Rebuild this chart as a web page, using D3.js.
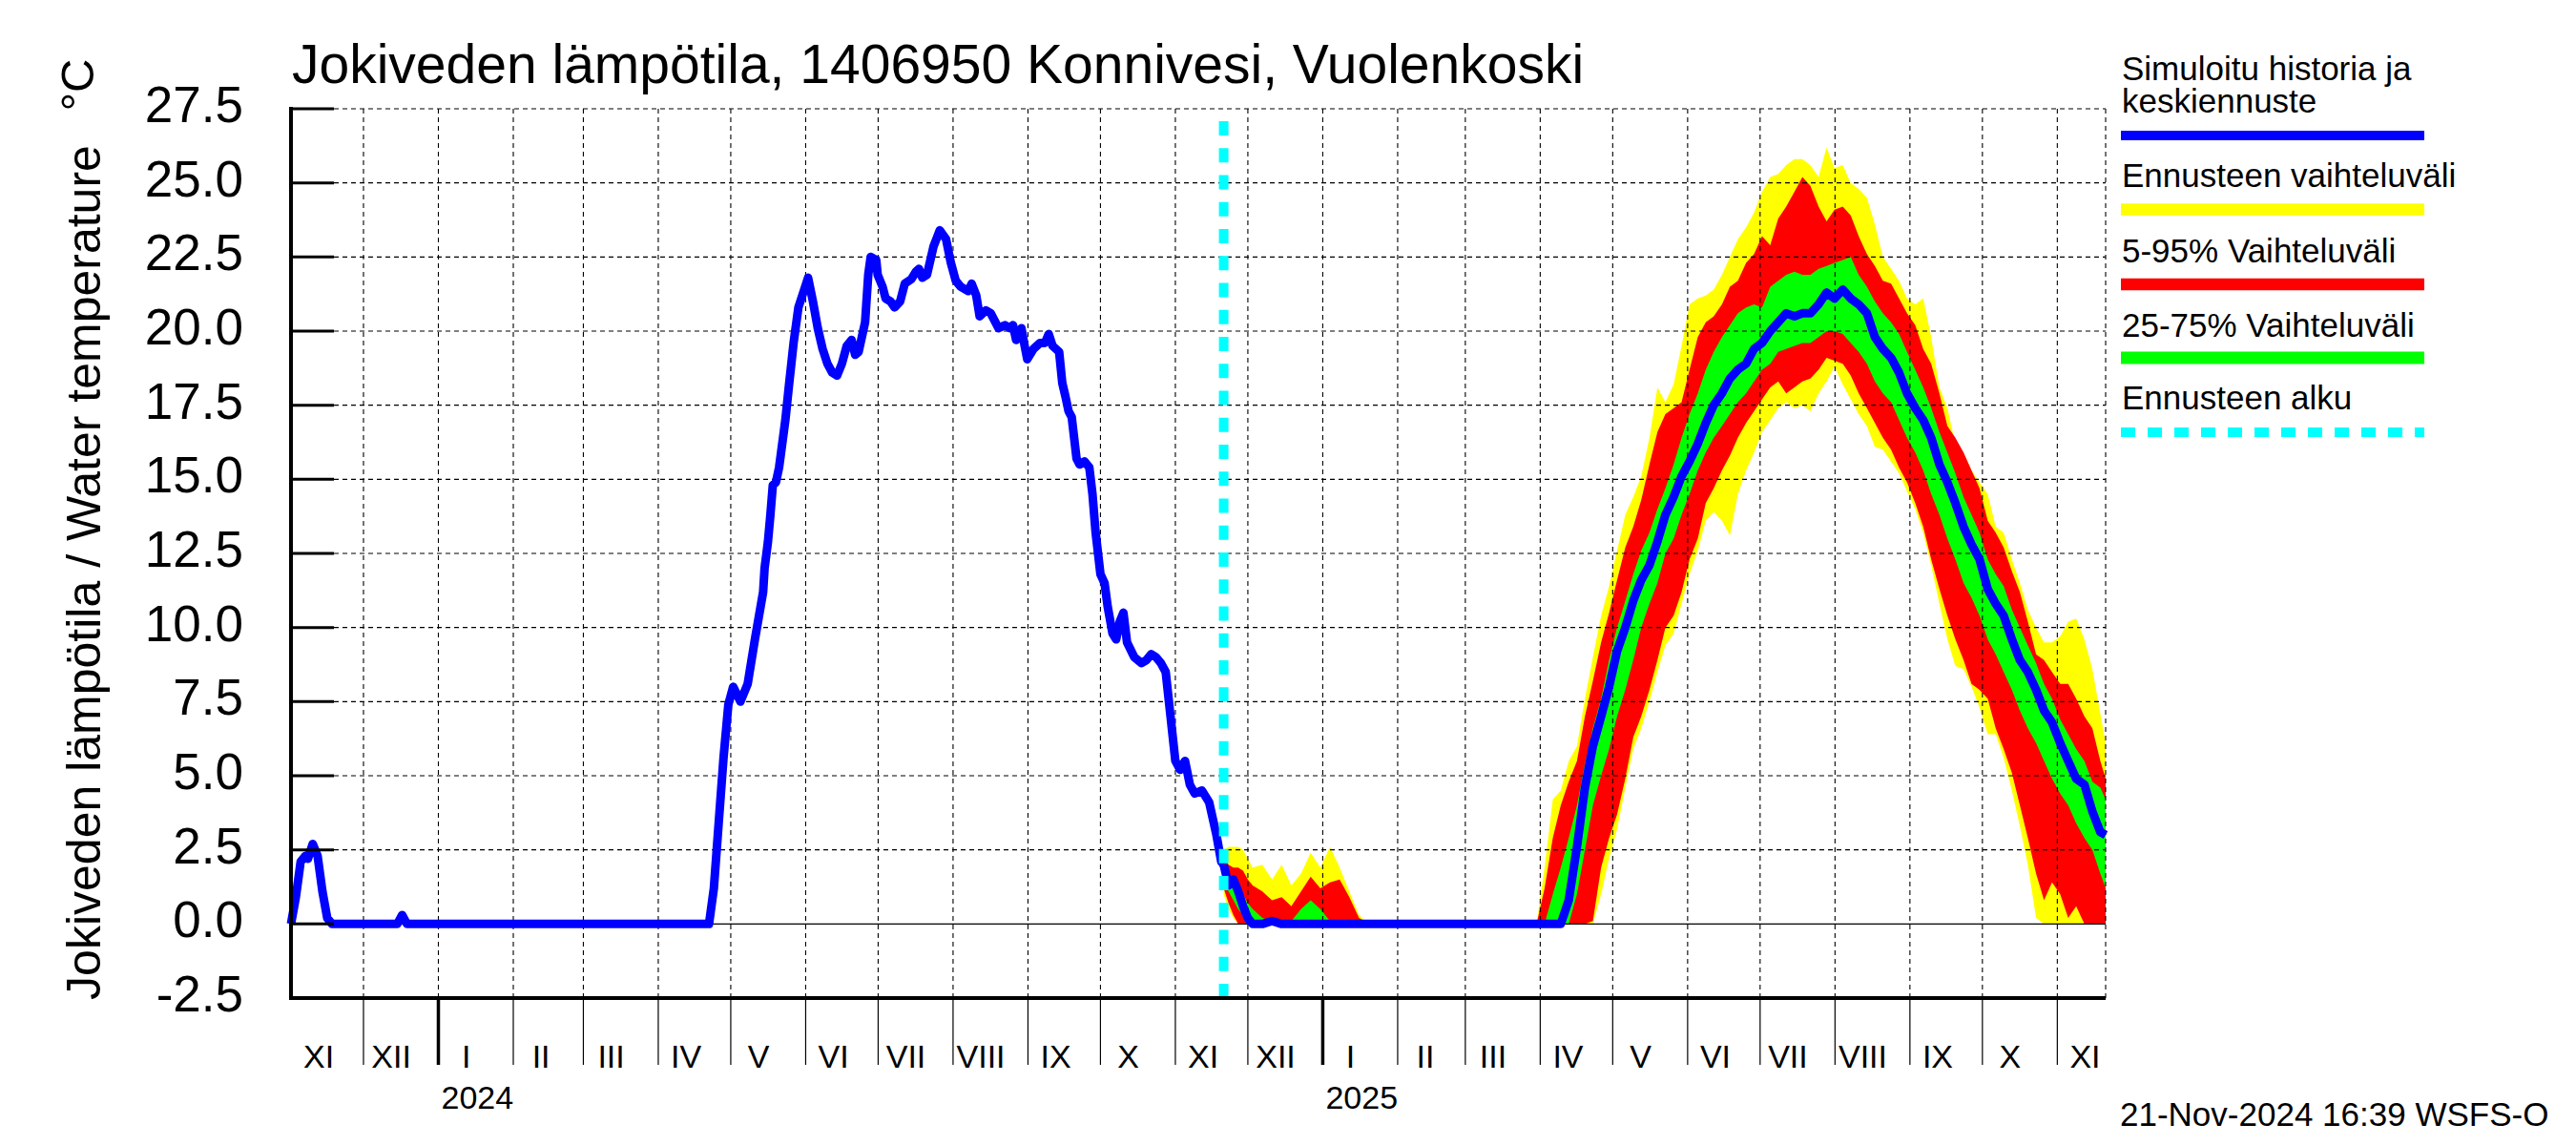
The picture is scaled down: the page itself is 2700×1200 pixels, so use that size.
<!DOCTYPE html>
<html><head><meta charset="utf-8">
<script src="https://cdn.jsdelivr.net/npm/d3@7"></script>
<style>
body{margin:0;background:#fff;}
svg text{font-family:"Liberation Sans",Arial,Helvetica,sans-serif;fill:#000;}
</style>
</head><body>
<svg id="c" width="2700" height="1200"></svg>
<script>
// ---------------- DATA ----------------
const titleText = "Jokiveden lämpötila, 1406950 Konnivesi, Vuolenkoski";
const yAxisTitle = "Jokiveden lämpötila / Water temperature";
const yUnit = "°C";
const footerText = "21-Nov-2024 16:39 WSFS-O";
const axisStart = "2023-11-01";
const axisEnd = "2025-11-21";
const forecastStart = "2024-11-21";
const yTicks = [-2.5,0,2.5,5,7.5,10,12.5,15,17.5,20,22.5,25,27.5];
const yTickLabels = ["-2.5","0.0","2.5","5.0","7.5","10.0","12.5","15.0","17.5","20.0","22.5","25.0","27.5"];
const monthLabels = ["I","II","III","IV","V","VI","VII","VIII","IX","X","XI","XII"];
const legendLabels = [["Simuloitu historia ja","keskiennuste"],["Ennusteen vaihteluväli"],["5-95% Vaihteluväli"],["25-75% Vaihteluväli"],["Ennusteen alku"]];

// simulated history: [days since 2023-11-01, °C]
const history = [[0,0],[2,0.9],[4,2.1],[6,2.3],[7,2.2],[9,2.7],[11,2.3],[13,1.1],[15,0.2],[17,0],[44,0],[46,0.3],[48,0],
[173,0],[175,1.2],[177,3.4],[179,5.6],[181,7.4],[183,8.0],[186,7.5],[189,8.1],[192,9.6],[195.4,11.2],[196,12.0],[197.4,12.9],
[198.4,13.8],[199.4,14.8],[200.7,14.9],[202,15.4],[203.3,16.2],[204.6,17.0],[206,18.1],[208,19.6],[210,20.8],[212,21.3],[214,21.8],
[216,21.0],[218,20.1],[220,19.4],[222,18.9],[224,18.6],[226,18.5],[228,18.9],[230,19.5],[232,19.7],[233.5,19.2],[234.9,19.3],
[237.6,20.3],[238.9,21.9],[239.9,22.5],[242.2,22.4],[242.8,21.9],[244.8,21.5],[246.1,21.1],[248.1,21.0],[249.8,20.8],[252.1,21.0],
[254,21.6],[256.7,21.75],[258.6,22.0],[259.9,22.1],[261.3,21.8],[263.2,21.9],[265.9,22.85],[268.5,23.4],[271.1,23.1],[273.1,22.3],
[275.1,21.7],[277.1,21.5],[280.3,21.35],[281.7,21.6],[283.6,21.2],[285,20.5],[287.6,20.7],[289.6,20.6],[292.8,20.1],[295.5,20.2],
[297.5,20.1],[298.8,20.2],[300.1,19.7],[302.3,20.1],[303.4,19.6],[304.7,19.05],[307.3,19.4],[310,19.6],[312,19.6],[313.6,19.9],
[315.2,19.5],[317.9,19.3],[319.2,18.25],[320.5,17.8],[321.8,17.3],[323.1,17.1],[325.1,15.7],[326.4,15.5],[328.4,15.6],[330.4,15.4],
[331.7,14.5],[333,13.2],[335,11.8],[336.7,11.5],[338,10.7],[340,9.8],[341.5,9.6],[343,10.2],[344.5,10.5],[346,9.5],[349,9.0],
[352,8.8],[354,8.9],[356,9.1],[358,9.0],[360,8.8],[362,8.5],[364,7.0],[366,5.5],[368,5.2],[370,5.5],[372,4.7],[374,4.4],
[377,4.5],[380,4.1],[383,3.0],[385,2.1],[386,2.0]];

// forecast: days since 2023-11-01
const fcDay = [386,388,390,392,394,396,398,402,406,410,414,418,422,426,430,434,438,442,446,470,500,
515.5,518.8,522.2,525.5,528.8,532.2,535.5,538.8,542.2,545.5,
548.8,552.2,555.5,558.8,562.2,565.5,568.8,572.2,575.5,578.8,
582.2,585.5,588.8,592.2,595.5,598.8,602.2,605.5,608.8,612.2,
615.5,618.8,622.2,625.5,628.8,632.2,635.5,638.8,642.2,645.5,
648.8,652.2,655.5,658.8,662.2,665.5,668.8,672.2,675.5,678.8,
682.2,685.5,688.8,692.2,695.5,698.8,702.2,705.5,708.8,712.2,
715.5,718.8,722.2,725.5,728.8,732.2,735.5,738.8,742.2,745.5,
748.8,751];
const fcMax = [2.5,2.6,2.6,2.6,2.5,2.2,1.9,2.0,1.5,2.0,1.3,1.7,2.4,1.9,2.6,1.9,1.1,0.3,0,0,0,
0,1.9,4.2,4.5,5.5,6.0,7.6,9.0,10.4,11.4,
12.6,13.8,14.4,15.1,16.4,18.1,17.6,18.2,19.5,20.9,
21.1,21.2,21.4,21.9,22.5,23.1,23.5,24.0,24.7,25.2,
25.3,25.6,25.8,25.8,25.6,25.2,26.2,25.5,25.6,25.0,
24.8,24.5,23.6,22.5,22.1,21.7,21.1,20.9,21.1,19.8,
18.1,17.4,16.2,15.9,15.3,14.9,14.5,13.4,13.2,12.3,
11.5,10.6,10.0,9.5,9.5,9.7,10.2,10.3,9.6,8.6,
7.1,6.1];
const fcP95 = [2.2,2.0,1.9,1.9,1.8,1.5,1.3,1.1,0.8,0.9,0.6,1.1,1.6,1.2,1.4,1.5,0.9,0.2,0,0,0,
0,1.2,2.9,4.0,4.8,5.5,7.0,8.2,9.5,10.5,
11.6,12.7,13.4,14.3,15.5,16.6,17.2,17.4,17.6,18.7,
19.8,20.3,20.5,20.9,21.5,21.7,22.3,22.6,23.2,22.9,
23.8,24.2,24.7,25.2,24.9,24.2,23.7,24.1,24.2,23.9,
23.2,22.6,22.2,21.7,21.6,21.1,20.6,20.2,19.4,18.9,
17.9,16.8,16.4,15.9,15.3,14.7,13.6,13.2,12.7,11.9,
11.2,10.2,9.1,8.9,8.5,8.1,8.1,7.6,7.0,6.6,
5.5,4.9];
const fcP75 = [2.0,1.7,1.4,1.2,1.0,0.7,0.5,0.2,0.1,0,0.1,0.5,0.8,0.5,0.1,0,0,0,0,0,0,
0,0,1.0,1.9,2.9,4.0,5.4,6.6,7.6,8.9,
10.0,10.9,11.8,12.6,13.2,14.0,14.7,15.5,16.4,17.2,
17.9,18.7,19.3,19.8,20.2,20.6,20.8,20.9,20.8,21.5,
21.7,21.9,22.0,21.9,21.9,22.1,22.2,22.3,22.4,22.5,
21.9,21.5,21.0,20.6,20.3,19.9,19.3,18.7,18.1,17.4,
16.6,15.9,15.2,14.4,13.8,13.2,12.3,11.8,11.4,10.6,
10.0,9.4,8.8,8.1,7.6,6.9,6.4,5.9,5.5,4.8,
4.6,4.2];
const fcMedian = [2.0,1.3,1.5,1.1,0.6,0.2,0,0,0.1,0,0,0,0,0,0,0,0,0,0,0,0,
0,0,0,0,0.8,2.6,4.6,6.0,7.0,8.0,
9.2,10.0,10.9,11.6,12.1,12.9,13.8,14.4,15.1,15.6,
16.2,16.9,17.5,17.9,18.4,18.7,18.9,19.4,19.6,20.0,
20.3,20.6,20.5,20.6,20.6,20.9,21.3,21.1,21.4,21.1,
20.9,20.6,19.8,19.4,19.1,18.6,17.9,17.4,17.0,16.4,
15.5,14.9,14.2,13.4,12.8,12.3,11.3,10.8,10.4,9.6,
8.9,8.5,7.9,7.2,6.8,6.1,5.5,4.9,4.7,3.8,
3.1,3.0];
const fcP25 = [1.5,1.1,0.8,0.5,0.3,0,0,0,0,0,0,0,0,0,0,0,0,0,0,0,0,
0,0,0,0,0,1.0,2.5,4.0,5.0,5.9,
7.0,7.9,8.9,10.0,10.8,11.5,12.5,13.0,13.8,14.5,
15.3,15.9,16.4,16.8,17.2,17.6,17.9,18.3,18.7,18.9,
19.3,19.4,19.5,19.6,19.6,19.8,20.0,20.0,19.9,19.6,
19.3,18.9,18.3,17.9,17.6,17.0,16.4,15.9,15.3,14.5,
13.8,13.0,12.3,11.5,11.0,10.4,9.6,9.1,8.5,7.9,
7.2,6.6,6.1,5.5,4.9,4.4,4.0,3.4,2.9,2.5,
1.7,1.2];
const fcP5 = [1.2,0.7,0.3,0,0,0,0,0,0,0,0,0,0,0,0,0,0,0,0,0,0,
0,0,0,0,0,0,0,0.1,1.9,2.9,
3.7,4.9,6.3,7.0,7.9,8.9,10.0,10.4,11.2,12.3,
13.0,14.2,14.7,15.3,15.8,16.4,16.9,17.3,17.7,18.1,
18.3,17.9,18.1,18.3,18.4,18.7,19.1,19.0,18.9,18.5,
17.9,17.4,16.9,16.4,16.0,15.4,14.9,14.2,13.4,12.3,
11.3,10.4,9.6,8.9,8.1,7.9,7.6,6.6,5.9,5.1,
4.0,2.9,1.7,0.8,1.4,1.0,0.2,0.6,0,0,
0,0];
const fcMin = [1.0,0.5,0.2,0,0,0,0,0,0,0,0,0,0,0,0,0,0,0,0,0,0,
0,0,0,0,0,0,0,0,1.0,2.2,
3.2,4.6,5.9,6.6,7.5,8.5,9.4,9.8,10.8,11.8,
12.6,13.6,13.9,13.6,13.1,14.5,15.3,15.9,16.6,17.0,
17.4,17.6,17.4,17.5,17.3,17.9,18.3,18.8,18.2,17.7,
17.2,16.8,16.1,16.0,15.6,15.2,14.6,14.0,13.2,12.1,
10.8,9.6,8.7,8.6,8.0,7.3,6.4,6.4,5.6,4.5,
3.3,2.0,0.2,0,0,0,0,0,0,0,
0,0];

// ---------------- CHART ----------------
const svg = d3.select("#c");
const parse = d3.utcParse("%Y-%m-%d");
const t0 = parse(axisStart), t1 = parse(axisEnd), tf = parse(forecastStart);
const dayToDate = d => new Date(t0.getTime() + d * 864e5);

const L = 305, R = 2207, T = 114, B = 1046;
const x = d3.scaleUtc().domain([t0, t1]).range([L, R]);
const y = d3.scaleLinear().domain([-2.5, 27.5]).range([B, T]);

const fc = fcDay.map((d, i) => ({t: dayToDate(d), mn: fcMin[i], p5: fcP5[i], p25: fcP25[i], md: fcMedian[i], p75: fcP75[i], p95: fcP95[i], mx: fcMax[i]}));

// bands
const band = (lo, hi, col) => svg.append("path").datum(fc)
  .attr("d", d3.area().x(d => x(d.t)).y0(d => y(d[lo])).y1(d => y(d[hi])))
  .attr("fill", col).attr("stroke", "none");
band("mn", "mx", "#ffff00");
band("p5", "p95", "#ff0000");
band("p25", "p75", "#00ff00");

// grid
const grid = svg.append("g");
const gridDash = "5 4";
yTicks.filter(v => v > -2.5).forEach(v => {
  grid.append("line").attr("x1", L).attr("x2", R).attr("y1", y(v)).attr("y2", y(v))
    .attr("stroke", "#000").attr("stroke-width", 1.1)
    .attr("stroke-dasharray", v === 0 ? null : gridDash);
});
const months = d3.utcMonths(t0, t1);
months.slice(1).forEach(m => {
  grid.append("line").attr("x1", x(m)).attr("x2", x(m)).attr("y1", T).attr("y2", B)
    .attr("stroke", "#000").attr("stroke-width", 1.1).attr("stroke-dasharray", gridDash);
});
grid.append("line").attr("x1", R).attr("x2", R).attr("y1", T).attr("y2", B)
  .attr("stroke", "#000").attr("stroke-width", 1.1).attr("stroke-dasharray", gridDash);

// lines
const line = d3.line().x(d => x(d[0])).y(d => y(d[1]));
svg.append("path").datum(history.map(d => [dayToDate(d[0]), d[1]]))
  .attr("d", line).attr("fill", "none").attr("stroke", "#0000ff").attr("stroke-width", 9)
  .attr("stroke-linejoin", "round");
svg.append("path").datum(fc.map(d => [d.t, d.md]))
  .attr("d", line).attr("fill", "none").attr("stroke", "#0000ff").attr("stroke-width", 9)
  .attr("stroke-linejoin", "round");

// forecast start
svg.append("line").attr("x1", x(tf)).attr("x2", x(tf)).attr("y1", B).attr("y2", T)
  .attr("stroke", "#00ffff").attr("stroke-width", 10).attr("stroke-dasharray", "15 13.25");

// axes
svg.append("line").attr("x1", L).attr("x2", L).attr("y1", T - 2).attr("y2", B + 2)
  .attr("stroke", "#000").attr("stroke-width", 4);
svg.append("line").attr("x1", L - 2).attr("x2", R).attr("y1", B).attr("y2", B)
  .attr("stroke", "#000").attr("stroke-width", 4);
yTicks.forEach((v, i) => {
  svg.append("line").attr("x1", L).attr("x2", L + 45).attr("y1", y(v)).attr("y2", y(v))
    .attr("stroke", "#000").attr("stroke-width", 3);
  svg.append("text").attr("x", 255).attr("y", y(v) + 14).attr("text-anchor", "end")
    .attr("font-size", 53).text(yTickLabels[i]);
});
months.slice(1).forEach(m => {
  const jan = m.getUTCMonth() === 0;
  svg.append("line").attr("x1", x(m)).attr("x2", x(m)).attr("y1", B).attr("y2", 1116)
    .attr("stroke", "#000").attr("stroke-width", jan ? 3.5 : 1.2);
  if (jan) svg.append("text").attr("x", x(m) + 3).attr("y", 1162).attr("font-size", 34)
    .text(String(m.getUTCFullYear()));
});
months.forEach(m => {
  svg.append("text").attr("x", x(d3.utcHour.offset(m, 276))).attr("y", 1119)
    .attr("text-anchor", "middle").attr("font-size", 34).text(monthLabels[m.getUTCMonth()]);
});

// titles
svg.append("text").attr("x", 306).attr("y", 87).attr("font-size", 57).text(titleText);
svg.append("text").attr("transform", "translate(105,600) rotate(-90)").attr("text-anchor", "middle")
  .attr("font-size", 50).text(yAxisTitle);
svg.append("text").attr("transform", "translate(98,89) rotate(-90)").attr("text-anchor", "middle")
  .attr("font-size", 49).text(yUnit);
svg.append("text").attr("x", 2222).attr("y", 1180).attr("font-size", 35).text(footerText);

// legend
const lg = svg.append("g");
const lgText = [[84,118],[196],[275],[353],[429]];
const lgLine = [[142,10,"#0000ff",null],[219.5,12.5,"#ffff00",null],[298,12.5,"#ff0000",null],[375,13,"#00ff00",null],[453,10,"#00ffff","15 13"]];
legendLabels.forEach((lines, i) => {
  lines.forEach((s, j) => lg.append("text").attr("x", 2224).attr("y", lgText[i][j]).attr("font-size", 35).text(s));
  const [yy, w, c, dash] = lgLine[i];
  lg.append("line").attr("x1", 2223).attr("x2", 2541).attr("y1", yy).attr("y2", yy)
    .attr("stroke", c).attr("stroke-width", w).attr("stroke-dasharray", dash);
});
</script>
</body></html>
